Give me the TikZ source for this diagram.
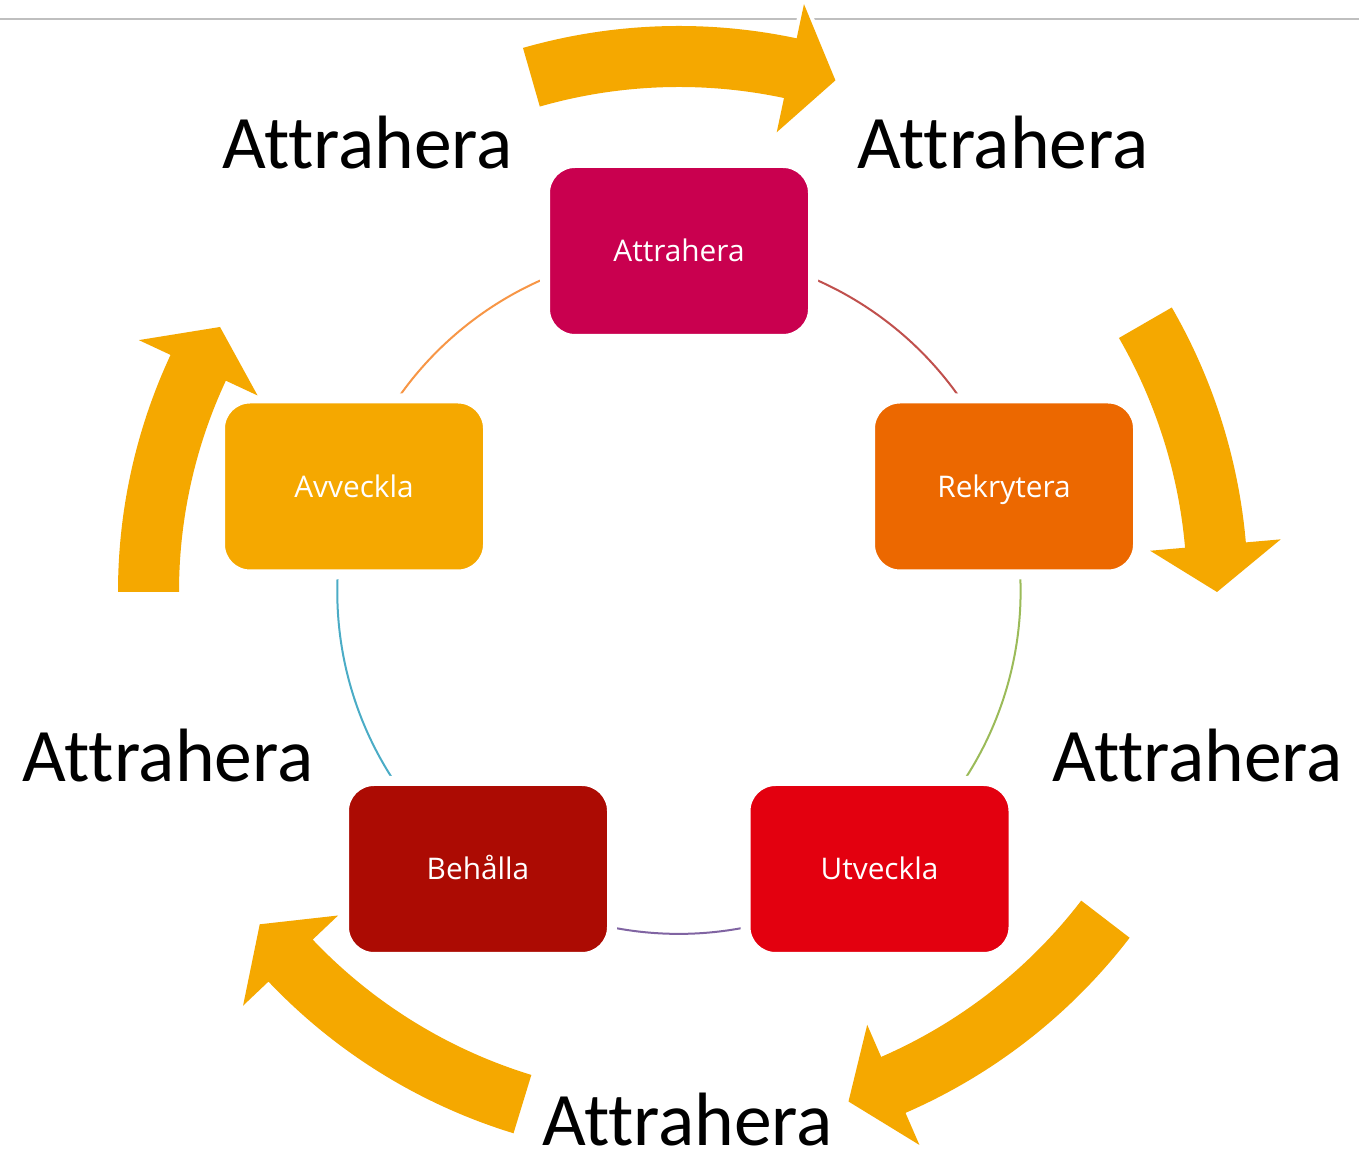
\documentclass[tikz,border=0pt]{standalone}
\usepackage{fontspec}
\usetikzlibrary{backgrounds}
\newfontfamily\bigfont[Ligatures=NoCommon]{Carlito}
\newfontfamily\boxfont{Open Sans}
\definecolor{cAtt}{HTML}{C9004F}
\definecolor{cRek}{HTML}{EC6800}
\definecolor{cUtv}{HTML}{E3000F}
\definecolor{cBeh}{HTML}{AC0B03}
\definecolor{cAvv}{HTML}{F5A800}
\definecolor{cArrow}{HTML}{F5A800}
\definecolor{lRed}{HTML}{C0504D}
\definecolor{lGreen}{HTML}{9BBB59}
\definecolor{lPurple}{HTML}{8064A2}
\definecolor{lTeal}{HTML}{4BACC6}
\definecolor{lOrange}{HTML}{F79646}
\definecolor{topline}{HTML}{BFBFBF}
\tikzset{
  stepbox/.style={rounded corners=15pt, minimum width=134pt, minimum height=88pt,
    inner sep=0pt, draw=white, line width=5pt, text=white,
    font=\boxfont\fontsize{14.9pt}{17pt}\selectfont, text height=10.6pt, text depth=0pt},
  arcline/.style={line width=1pt, bend left=36, looseness=0.94},
  bigtext/.style={font=\bigfont\fontsize{37.8pt}{45pt}\selectfont, anchor=base, inner sep=0pt},
  arrowfill/.style={fill=cArrow, preaction={draw=white, line width=4pt, line join=round}}
}
% #1 start angle, #2 head base angle, #3 tip angle, #4 radial shift
\newcommand{\cyclearrow}[4]{%
  \fill[arrowfill] (#1:568+#4) arc[start angle=#1, end angle=#2, radius=568+#4]
    -- (#2:603+#4) -- (#3:537+#4) -- (#2:472+#4) -- (#2:507+#4)
    arc[start angle=#2, end angle=#1, radius=507+#4] -- cycle;}
\begin{document}
\begin{tikzpicture}[x=0.5pt, y=0.5pt]
\useasboundingbox (0,0) rectangle (1359,1161);
\coordinate (C) at (679,569);
% boxes
\node[stepbox, fill=cAtt] (att) at (679,910) {Attrahera};
\node[stepbox, fill=cRek] (rek) at (1004,674.5) {Rekrytera};
\node[stepbox, fill=cUtv] (utv) at (879.5,292) {Utveckla};
\node[stepbox, fill=cBeh] (beh) at (478,292) {Behålla};
\node[stepbox, fill=cAvv] (avv) at (354,674.5) {Avveckla};
\begin{scope}[on background layer]
  \coordinate (tl) at (0,1142);
  \coordinate (tr) at (1359,1142);
  \draw[topline, line width=0.75pt] (tl) -- (tr);
  \draw[arcline, lRed] (att.center) to (rek.center);
  \draw[arcline, lGreen] (rek.center) to (utv.center);
  \draw[arcline, lPurple] (utv.center) to (beh.center);
  \draw[arcline, lTeal] (beh.center) to (avv.center);
  \draw[arcline, lOrange] (avv.center) to (att.center);
\end{scope}
% big cycle arrows
\begin{scope}[shift={(C)}]
  \cyclearrow{106}{78}{73}{-2}
  \cyclearrow{30}{5}{0}{1}
  \cyclearrow{-37.5}{-66.5}{-71.6}{0}
  \cyclearrow{-107}{-136.5}{-141.6}{-2}
  \cyclearrow{180}{155}{150}{-7}
\end{scope}
% big labels
\node[bigtext] (t1) at (367.5,992) {Attrahera};
\node[bigtext] (t2) at (1003,992) {Attrahera};
\node[bigtext] (t3) at (168,379) {Attrahera};
\node[bigtext] (t4) at (1197.5,379) {Attrahera};
\node[bigtext] (t5) at (687.5,15) {Attrahera};
\end{tikzpicture}
\end{document}
